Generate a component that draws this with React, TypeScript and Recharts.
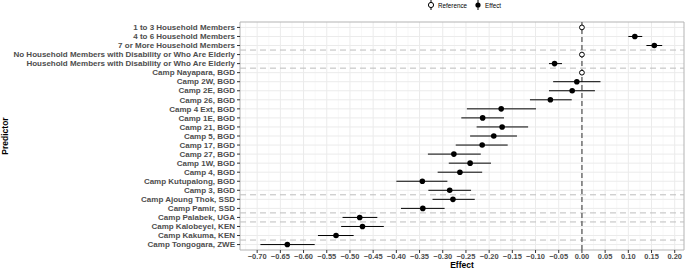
import React from 'react';
import { ScatterChart, Scatter, XAxis, YAxis, CartesianGrid, ErrorBar, ReferenceLine, ReferenceArea } from 'recharts';

const predictors = [
  '1 to 3 Household Members',
  '4 to 6 Household Members',
  '7 or More Household Members',
  'No Household Members with Disability or Who Are Elderly',
  'Household Members with Disability or Who Are Elderly',
  'Camp Nayapara, BGD',
  'Camp 2W, BGD',
  'Camp 2E, BGD',
  'Camp 26, BGD',
  'Camp 4 Ext, BGD',
  'Camp 1E, BGD',
  'Camp 21, BGD',
  'Camp 5, BGD',
  'Camp 17, BGD',
  'Camp 27, BGD',
  'Camp 1W, BGD',
  'Camp 4, BGD',
  'Camp Kutupalong, BGD',
  'Camp 3, BGD',
  'Camp Ajoung Thok, SSD',
  'Camp Pamir, SSD',
  'Camp Palabek, UGA',
  'Camp Kalobeyei, KEN',
  'Camp Kakuma, KEN',
  'Camp Tongogara, ZWE',
];

// reference categories have no interval
const isReference = [true, false, false, true, false, true, false, false, false, false, false, false, false, false, false, false, false, false, false, false, false, false, false, false, false];
const estimate = [0, 0.114, 0.156, 0, -0.059, 0, -0.011, -0.021, -0.068, -0.174, -0.214, -0.172, -0.190, -0.215, -0.276, -0.241, -0.263, -0.344, -0.285, -0.278, -0.343, -0.479, -0.473, -0.530, -0.635];
const ciLow = [0, 0.100, 0.139, 0, -0.071, 0, -0.062, -0.071, -0.112, -0.248, -0.260, -0.227, -0.241, -0.272, -0.332, -0.287, -0.311, -0.400, -0.331, -0.322, -0.390, -0.516, -0.519, -0.569, -0.693];
const ciHigh = [0, 0.130, 0.173, 0, -0.043, 0, 0.040, 0.028, -0.022, -0.099, -0.168, -0.116, -0.140, -0.160, -0.218, -0.196, -0.215, -0.290, -0.239, -0.231, -0.296, -0.441, -0.427, -0.492, -0.576];

// dashed separators between variable groups / countries
const groupBreaks = [3.5, 5.5, 19.5, 21.5, 22.5, 24.5];

const xTicks = [-0.7, -0.65, -0.6, -0.55, -0.5, -0.45, -0.4, -0.35, -0.3, -0.25, -0.2, -0.15, -0.1, -0.05, 0, 0.05, 0.1, 0.15, 0.2];

const X_MIN = -0.737;
const X_MAX = 0.22;
const Y_MIN = 0.4;
const Y_MAX = 25.6;

const rows = predictors.map((name, i) => ({
  name,
  y: i + 1,
  x: estimate[i],
  err: [estimate[i] - ciLow[i], ciHigh[i] - estimate[i]],
  ref: isReference[i],
}));
const refRows = rows.filter(r => r.ref);
const effectRows = rows.filter(r => !r.ref);

const yTicks = rows.map(r => r.y);
const minorX = xTicks.map(t => t - 0.025).concat([0.225]).filter(v => v > X_MIN && v < X_MAX);

const fmt = (v: number) => {
  const s = Math.abs(v).toFixed(2);
  return v < -0.0001 ? '\u2212' + s : s;
};

const FONT = '"Liberation Sans", Arial, sans-serif';

// single-line tick, no wrapping
const YTick = (props: any) => {
  const { x, y, payload } = props;
  return (
    <text x={x} y={y} dy="0.34em" textAnchor="end" fontSize={8} fontWeight={700} fill="#4d4d4d" fontFamily={FONT}>
      {predictors[payload.value - 1]}
    </text>
  );
};

const LegendGlyph = ({ filled }: { filled: boolean }) => (
  <svg width="8" height="10" style={{ verticalAlign: 'middle' }}>
    <line x1="4" y1="0" x2="4" y2="10" stroke="#000" strokeWidth="1" />
    <circle cx="4" cy="5" r="2.6" fill={filled ? '#000' : '#fff'} stroke="#000" strokeWidth={filled ? 0 : 1} />
  </svg>
);

const App: React.FC = () => {
  return (
    <div style={{ position: 'relative', width: 685, height: 269, fontFamily: FONT }}>
      <style>{'body{margin:0}'}</style>
      <div style={{ position: 'absolute', top: 0, left: 427, fontSize: 6.3, color: '#000', display: 'flex', alignItems: 'center', gap: 3, height: 10, zIndex: 1 }}>
        <LegendGlyph filled={false} />
        <span style={{ marginRight: 4 }}>Reference</span>
        <LegendGlyph filled />
        <span>Effect</span>
      </div>
      <ScatterChart width={685} height={269} margin={{ top: 22, right: 1, bottom: 0, left: 0 }}>
        <CartesianGrid verticalValues={minorX} horizontal={false} stroke="#f0f0f0" strokeWidth={0.5} />
        <CartesianGrid verticalValues={xTicks} horizontalValues={yTicks} stroke="#ebebeb" strokeWidth={1} />
        <XAxis
          type="number"
          dataKey="x"
          domain={[X_MIN, X_MAX]}
          ticks={xTicks}
          tickFormatter={fmt}
          interval={0}
          allowDataOverflow
          axisLine={false}
          tickLine={{ stroke: '#333' }}
          tickSize={3}
          height={19}
          tick={{ fontSize: 7.5, fontWeight: 700, fill: '#4d4d4d', fontFamily: FONT, dy: -1 }}
          label={{
            content: (p: any) => (
              <text x={p.viewBox.x + p.viewBox.width / 2} y={268} textAnchor="middle" fontSize={8.5} fontWeight={700} fill="#000" fontFamily={FONT}>
                Effect
              </text>
            ),
          }}
        />
        <YAxis
          type="number"
          dataKey="y"
          reversed
          domain={[Y_MIN, Y_MAX]}
          ticks={yTicks}
          interval={0}
          tick={<YTick />}
          allowDataOverflow
          axisLine={false}
          tickLine={{ stroke: '#333' }}
          tickSize={3}
          width={240}
          label={{
            content: (p: any) => {
              const cy = p.viewBox.y + p.viewBox.height / 2;
              return (
                <text x={8} y={cy} transform={`rotate(-90, 8, ${cy})`} textAnchor="middle" fontSize={8.5} fontWeight={700} fill="#000" fontFamily={FONT}>
                  Predictor
                </text>
              );
            },
          }}
        />
        <ReferenceArea x1={X_MIN} x2={X_MAX} y1={Y_MIN} y2={Y_MAX} fill="none" stroke="#b3b3b3" strokeWidth={1} />
        {groupBreaks.map(b => (
          <ReferenceLine key={b} y={b} stroke="#bdbdbd" strokeWidth={1} strokeDasharray="6 4" />
        ))}
        <ReferenceLine x={0} stroke="#666" strokeWidth={1.4} strokeDasharray="5 3" />
        <Scatter
          name="Effect"
          data={effectRows}
          fill="#000"
          isAnimationActive={false}
          shape={(p: any) => <circle cx={p.cx} cy={p.cy} r={2.8} fill="#000" />}
        >
          <ErrorBar dataKey="err" direction="x" width={0} stroke="#000" strokeWidth={1} isAnimationActive={false} />
        </Scatter>
        <Scatter
          name="Reference"
          data={refRows}
          isAnimationActive={false}
          shape={(p: any) => <circle cx={p.cx} cy={p.cy} r={2.4} fill="#fff" stroke="#000" strokeWidth={1} />}
        />
      </ScatterChart>
    </div>
  );
};

export default App;
